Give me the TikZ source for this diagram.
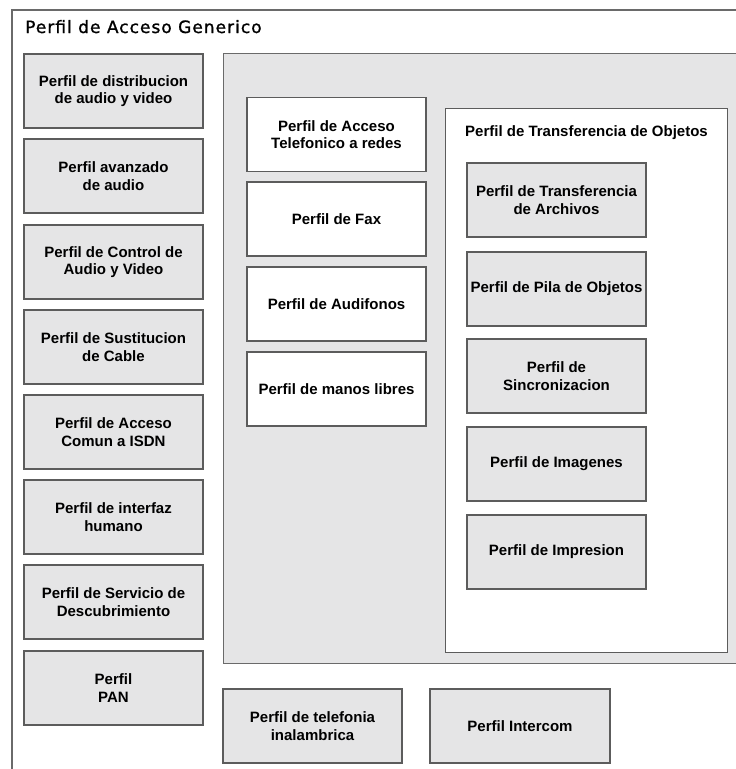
\documentclass[tikz,border=0pt]{standalone}
\usepackage{fontspec}
\setmainfont{Liberation Sans}
\newfontfamily\headfont[LetterSpace=6,FakeBold=1.2]{DejaVu Sans}
\definecolor{boxgray}{HTML}{E5E5E6}
\definecolor{edgegray}{HTML}{5C5C5C}
\definecolor{framegray}{HTML}{6A6A6A}
\begin{document}
\begin{tikzpicture}[x=1pt,y=-1pt,
  frame/.style={draw=framegray, line width=1.4pt},
  panel/.style={draw=framegray, line width=1.4pt, fill=boxgray, inner sep=0pt},
  gbox/.style={draw=edgegray, line width=1.5pt, fill=boxgray, inner sep=0pt,
    minimum width=179pt, minimum height=74pt, align=center,
    font=\bfseries\fontsize{15}{17.5}\selectfont},
  wbox/.style={gbox, fill=white},
  heading/.style={inner sep=0pt, font=\headfont\fontsize{17}{20}\selectfont},
  subheading/.style={inner sep=0pt, font=\bfseries\fontsize{15}{17.5}\selectfont}]
\useasboundingbox (0,0) rectangle (736,769);
\clip (0,0) rectangle (736,769);
\fill[white] (0,0) rectangle (736,769);

% outer frame (runs past the right and lower edges)
\draw[frame] (12,790) -- (12,10) -- (760,10);
\node[heading, anchor=base west] (title) at (25,33) {Perfil de Acceso Generico};

% left column
\node[gbox] (p1) at (113.5,91)  {Perfil de distribucion\\de audio y video};
\node[gbox] (p2) at (113.5,176) {Perfil avanzado\\de audio};
\node[gbox] (p3) at (113.5,262) {Perfil de Control de\\Audio y Video};
\node[gbox] (p4) at (113.5,347) {Perfil de Sustitucion\\de Cable};
\node[gbox] (p5) at (113.5,432) {Perfil de Acceso\\Comun a ISDN};
\node[gbox] (p6) at (113.5,517) {Perfil de interfaz\\humano};
\node[gbox] (p7) at (113.5,602) {Perfil de Servicio de\\Descubrimiento};
\node[gbox] (p8) at (113.5,688) {Perfil\\PAN};

% central panel
\node[panel, anchor=north west, minimum width=560pt, minimum height=610pt] (panel) at (223,53) {};
\node[wbox] (w1) at (336.5,134.5) {Perfil de Acceso\\Telefonico a redes};
\node[wbox] (w2) at (336.5,219)   {Perfil de Fax};
\node[wbox] (w3) at (336.5,304)   {Perfil de Audifonos};
\node[wbox] (w4) at (336.5,389)   {Perfil de manos libres};

% object transfer group
\node[draw=edgegray, line width=1.4pt, fill=white, inner sep=0pt, anchor=north west,
  minimum width=282pt, minimum height=544pt] (obj) at (445,108) {};
\node[subheading, anchor=west] (objtitle) at (465,133) {Perfil de Transferencia de Objetos};
\node[gbox] (o1) at (556.5,200) {Perfil de Transferencia\\de Archivos};
\node[gbox] (o2) at (556.5,289) {Perfil de Pila de Objetos};
\node[gbox] (o3) at (556.5,376) {Perfil de\\Sincronizacion};
\node[gbox] (o4) at (556.5,464) {Perfil de Imagenes};
\node[gbox] (o5) at (556.5,552) {Perfil de Impresion};

% bottom row
\node[gbox] (b1) at (312.5,726) {Perfil de telefonia\\inalambrica};
\node[gbox, minimum width=180pt] (b2) at (520,726) {Perfil Intercom};
\end{tikzpicture}
\end{document}
